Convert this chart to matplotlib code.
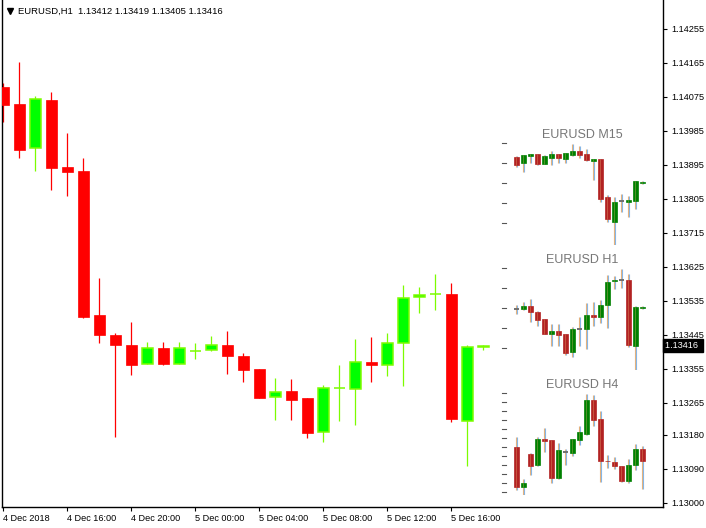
import numpy as np
import matplotlib
matplotlib.use('Agg')
import matplotlib.pyplot as plt
import matplotlib.transforms as mtransforms

plt.rcParams['font.family'] = ['Liberation Sans', 'DejaVu Sans']

# EURUSD H1, 4 Dec 12:00 -> 5 Dec 18:00
h1_open = [1.14101, 1.14056, 1.13940, 1.14067, 1.13889, 1.13879, 1.13498, 1.13445,
           1.13418, 1.13368, 1.13410, 1.13368, 1.13403, 1.13405, 1.13418, 1.13389,
           1.13355, 1.13281, 1.13296, 1.13278, 1.13188, 1.13303, 1.13302, 1.13373,
           1.13365, 1.13424, 1.13545, 1.13552, 1.13553, 1.13217, 1.13412]
h1_high = [1.14112, 1.14167, 1.14077, 1.14088, 1.13979, 1.13913, 1.13596, 1.13450,
           1.13479, 1.13426, 1.13426, 1.13426, 1.13424, 1.13442, 1.13455, 1.13397,
           1.13355, 1.13331, 1.13328, 1.13278, 1.13312, 1.13365, 1.13434, 1.13439,
           1.13450, 1.13577, 1.13572, 1.13606, 1.13582, 1.13418, 1.13419]
h1_low = [1.14009, 1.13913, 1.13879, 1.13829, 1.13813, 1.13490, 1.13424, 1.13175,
          1.13339, 1.13368, 1.13365, 1.13368, 1.13381, 1.13402, 1.13341, 1.13320,
          1.13278, 1.13220, 1.13220, 1.13172, 1.13161, 1.13217, 1.13206, 1.13320,
          1.13336, 1.13310, 1.13503, 1.13511, 1.13214, 1.13098, 1.13405]
h1_close = [1.14054, 1.13934, 1.14069, 1.13887, 1.13876, 1.13492, 1.13445, 1.13418,
            1.13365, 1.13410, 1.13368, 1.13410, 1.13403, 1.13418, 1.13389, 1.13352,
            1.13278, 1.13294, 1.13273, 1.13185, 1.13304, 1.13303, 1.13373, 1.13365,
            1.13424, 1.13543, 1.13551, 1.13552, 1.13222, 1.13413, 1.13416]

time_labels = ['4 Dec 2018', '4 Dec 16:00', '4 Dec 20:00', '5 Dec 00:00',
               '5 Dec 04:00', '5 Dec 08:00', '5 Dec 12:00', '5 Dec 16:00']
price_ticks = [1.13000, 1.13090, 1.13180, 1.13265, 1.13355, 1.13445, 1.13535, 1.13625,
               1.13715, 1.13805, 1.13895, 1.13985, 1.14075, 1.14165, 1.14255]

# EURUSD M15, last 19 bars
m15_open = [1.13541, 1.13512, 1.13547, 1.13556, 1.13507, 1.13537, 1.13556, 1.13532, 1.13551, 1.13571,
            1.13556, 1.13522, 1.13531, 1.13339, 1.13215, 1.13318, 1.13316, 1.13319, 1.13412]
m15_high = [1.13545, 1.13551, 1.13556, 1.13556, 1.13551, 1.13571, 1.13556, 1.13561, 1.13606, 1.13596,
            1.13581, 1.13531, 1.13531, 1.13350, 1.13339, 1.13355, 1.13345, 1.13420, 1.13419]
m15_low = [1.13492, 1.13467, 1.13512, 1.13502, 1.13507, 1.13502, 1.13512, 1.13512, 1.13547, 1.13537,
           1.13522, 1.13425, 1.13316, 1.13215, 1.13098, 1.13264, 1.13240, 1.13279, 1.13405]
m15_close = [1.13502, 1.13551, 1.13556, 1.13507, 1.13546, 1.13556, 1.13537, 1.13561, 1.13571, 1.13551,
             1.13527, 1.13531, 1.13329, 1.13230, 1.13314, 1.13318, 1.13324, 1.13420, 1.13416]

# EURUSD H4, last 19 bars
h4_open = [1.13574, 1.13122, 1.13494, 1.13369, 1.13665, 1.13654, 1.13224, 1.13521, 1.13509, 1.13654,
           1.13722, 1.14110, 1.13889, 1.13418, 1.13403, 1.13355, 1.13188, 1.13365, 1.13553]
h4_high = [1.13692, 1.13209, 1.13500, 1.13692, 1.13791, 1.13654, 1.13620, 1.13551, 1.13665, 1.13814,
           1.14178, 1.14167, 1.13979, 1.13479, 1.13455, 1.13355, 1.13434, 1.13606, 1.13582]
h4_low = [1.13087, 1.13027, 1.13258, 1.13358, 1.13521, 1.13167, 1.13213, 1.13372, 1.13475, 1.13597,
          1.13711, 1.13817, 1.13175, 1.13339, 1.13320, 1.13172, 1.13161, 1.13310, 1.13098]
h4_close = [1.13122, 1.13164, 1.13361, 1.13665, 1.13643, 1.13224, 1.13540, 1.13521, 1.13665, 1.13745,
            1.14110, 1.13882, 1.13418, 1.13410, 1.13352, 1.13185, 1.13365, 1.13553, 1.13416]

W, H = 706, 528
fig = plt.figure(figsize=(W / 100, H / 100), dpi=100)
fig.patch.set_facecolor('white')

# main chart
ax = fig.add_axes([2 / W, (H - 507) / H, 661 / W, 507 / H])
x = np.arange(len(h1_open))
o = np.array(h1_open); hi = np.array(h1_high); lo = np.array(h1_low); c = np.array(h1_close)
bull = c >= o
wick_col = np.where(bull, '#7CFC00', '#FF0000')
ax.vlines(x, lo, hi, colors=wick_col, lw=0.9, zorder=2)
ax.bar(x[bull], (c - o)[bull], bottom=o[bull], width=0.69, color='#00FF00',
       edgecolor='#7CFC00', lw=1.1, zorder=3)
ax.bar(x[~bull], (o - c)[~bull], bottom=c[~bull], width=0.69, color='#FF0000',
       edgecolor='#FF0000', lw=0.5, zorder=3)

ax.set_xlim(-0.08, 41.23)
ax.set_ylim(1.12989, 1.14331)
ax.spines['top'].set_visible(False)
for s in ['left', 'right', 'bottom']:
    ax.spines[s].set_linewidth(1.0)
    ax.spines[s].set_color('black')

ax.yaxis.tick_right()
ax.set_yticks(price_ticks)
ax.set_yticklabels(['%.5f' % p for p in price_ticks])
ax.tick_params(axis='y', direction='out', length=3, width=0.8, pad=3, labelsize=6.6)
ax.set_xticks(np.arange(0, 4 * len(time_labels), 4))
ax.set_xticklabels(time_labels, ha='left')
ax.tick_params(axis='x', direction='out', length=3, width=0.8, pad=2, labelsize=6.6)

# current price box
trans = mtransforms.blended_transform_factory(ax.transAxes, ax.transData)
ax.text(1.0035, c[-1], '%.5f ' % c[-1], transform=trans, color='white', fontsize=6.6,
        va='center', ha='left',
        bbox=dict(boxstyle='square,pad=0.25', fc='black', ec='black'))

# header
ax.text(16 / 661, 1 - 11 / 507, 'EURUSD,H1  %.5f %.5f %.5f %.5f' % (o[-1], hi[-1], lo[-1], c[-1]),
        transform=ax.transAxes, fontsize=6.8, va='center', ha='left', color='black')
ax.plot([7.5 / 661], [1 - 11 / 507], marker='v', ms=4, color='black',
        transform=ax.transAxes, clip_on=False)


def draw_mini(top_px, title, mo, mh, ml, mc, n_dash, dash_step):
    mo = np.array(mo); mh = np.array(mh); ml = np.array(ml); mc = np.array(mc)
    left_px, right_px = 495.3, 645.8
    m = fig.add_axes([left_px / W, (H - top_px - 101) / H, (right_px - left_px) / W, 101 / H])
    m.patch.set_alpha(0)
    m.axis('off')
    xi = np.arange(len(mo))
    m.vlines(xi - 0.07, ml, mh, colors='#E9B27A', lw=0.8, zorder=2)
    m.vlines(xi + 0.07, ml, mh, colors='#86B6E6', lw=0.8, zorder=2)
    up = mc > mo
    dn = mc < mo
    eq = mc == mo
    m.bar(xi[up], (mc - mo)[up], bottom=mo[up], width=0.7, color='#008000',
          edgecolor='#008000', lw=0.5, zorder=3)
    m.bar(xi[dn], (mo - mc)[dn], bottom=mc[dn], width=0.7, color='#B22222',
          edgecolor='#B22222', lw=0.5, zorder=3)
    m.bar(xi[eq], np.zeros(eq.sum()), bottom=mo[eq], width=0.7, color='#707070',
          edgecolor='#707070', lw=1.4, zorder=3)
    m.vlines(xi[~eq], np.minimum(mo, mc)[~eq], np.maximum(mo, mc)[~eq],
             colors='#E9B27A', lw=0.7, alpha=0.35, zorder=4)
    m.set_xlim(-3, 18.5)
    m.set_ylim(ml.min(), mh.max())
    for k in range(n_dash):
        yy = 1.01 - k * dash_step
        m.plot([0.0445, 0.071], [yy, yy], color='#555555', lw=0.8,
               transform=m.transAxes, clip_on=False)
    m.text(0.576, 1.089, title, transform=m.transAxes, fontsize=9, color='#777777',
           ha='center', va='center')


draw_mini(144, 'EURUSD M15', m15_open, m15_high, m15_low, m15_close, 5, 20 / 101)
draw_mini(269, 'EURUSD H1', h1_open[12:], h1_high[12:], h1_low[12:], h1_close[12:], 5, 20 / 101)
draw_mini(394, 'EURUSD H4', h4_open, h4_high, h4_low, h4_close, 12, 9 / 101)

fig.savefig('out.png', dpi=100)
